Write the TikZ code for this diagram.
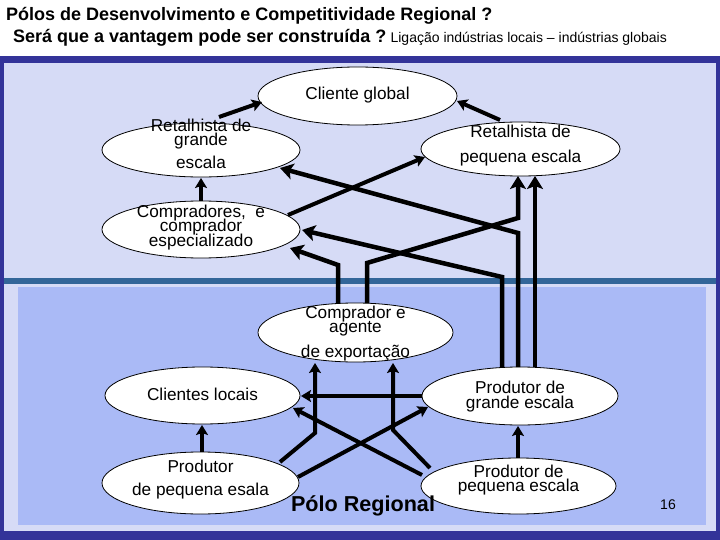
\documentclass[tikz,border=0pt]{standalone}
\usepackage{fontspec}
\setmainfont{Liberation Sans}
\usetikzlibrary{shapes.geometric,arrows.meta,calc}
\definecolor{frameblue}{RGB}{51,51,153}
\definecolor{lightlav}{RGB}{214,219,246}
\definecolor{stripeblue}{RGB}{51,102,153}
\definecolor{lowerblue}{RGB}{170,186,246}
\begin{document}
\begin{tikzpicture}[x=1pt,y=-1pt,
  ell/.style={ellipse, draw=black, line width=0.8pt, fill=white, inner sep=0pt},
  lbl/.style={font=\fontsize{17.2}{18}\selectfont, anchor=base, inner sep=0pt},
  bigarr/.style={line width=4.5pt, line join=miter, -{Stealth[length=13pt,width=16pt,inset=3pt]}},
  smallarr/.style={line width=4pt, line join=miter, -{Stealth[length=10pt,width=12pt,inset=2pt]}},
]
\useasboundingbox (0,0) rectangle (720,540);
% background
\fill[white] (0,0) rectangle (720,540);
\fill[frameblue] (0,56) rectangle (720,540);
\fill[lightlav] (4,63) rectangle (716,531);
\fill[stripeblue] (4,278) rectangle (716,284);
\fill[lowerblue] (18,287) rectangle (706,525);
% titles
\node[anchor=base west, inner sep=0pt, font=\fontsize{18}{20}\selectfont\bfseries] (t1) at (6,21) {Pólos de Desenvolvimento e Competitividade Regional ?};
\node[anchor=base west, inner sep=0pt, font=\fontsize{18}{20}\selectfont\bfseries] (t2) at (13,43) {Será que a vantagem pode ser construída ?};
\node[anchor=base west, inner sep=0pt, font=\fontsize{14}{16}\selectfont] (t3) at (t2.base east) {\ Ligação indústrias locais – indústrias globais};
% ellipses
\node[ell, minimum width=199pt, minimum height=58pt] (cg) at (357.5,96) {};
\node[ell, minimum width=198pt, minimum height=54pt] (rg) at (201,150) {};
\node[ell, minimum width=199pt, minimum height=54pt] (rp) at (520.5,149) {};
\node[ell, minimum width=198pt, minimum height=57pt] (cp) at (201,229.5) {};
\node[ell, minimum width=195pt, minimum height=59pt] (ca) at (355.5,332.5) {};
\node[ell, minimum width=195pt, minimum height=57pt] (cl) at (202.5,395.5) {};
\node[ell, minimum width=196pt, minimum height=58pt] (pg) at (520,396) {};
\node[ell, minimum width=197pt, minimum height=62pt] (pe) at (200.5,483) {};
\node[ell, minimum width=195pt, minimum height=56pt] (ps) at (518.5,486) {};
% connectors
\draw[smallarr] ($(rg)+(18,-33)$) -- ($(cg)+(-95.5,6)$);
\draw[smallarr] ($(rp)+(-20.5,-29)$) -- ($(cg)+(99.5,5)$);
\draw[smallarr] ($(cp)+(0,-28.5)$) -- ($(rg)+(0,28)$);
\draw[smallarr] ($(cp)+(87,-14.5)$) -- ($(rp)+(-95.5,8)$);
\draw[bigarr] ($(pg)+(-2,-29)$) -- ($(pg)+(-2,-163)$) -- ($(rg)+(79,18)$);
\draw[bigarr] ($(ca)+(11.5,-29.5)$) -- ($(ca)+(11.5,-69.5)$) -- ($(rp)+(-2.5,69)$) -- ($(rp)+(-2.5,27)$);
\draw[bigarr] ($(pg)+(15,-29)$) -- ($(rp)+(14.5,27)$);
\draw[bigarr] ($(pg)+(-18,-29)$) -- ($(pg)+(-18,-119)$) -- ($(cp)+(101,0.5)$);
\draw[bigarr] ($(ca)+(-17.5,-29.5)$) -- ($(ca)+(-17.5,-67.5)$) -- ($(cp)+(89,18.5)$);
\draw[smallarr] ($(pg)+(-98,0)$) -- ($(cl)+(98.5,0.5)$);
\draw[smallarr] ($(pe)+(79.5,-21)$) -- ($(pe)+(114.5,-50)$) -- ($(ca)+(-40.5,30.5)$);
\draw[smallarr] ($(ps)+(-88.5,-18)$) -- ($(ps)+(-125.5,-56)$) -- ($(ca)+(37.5,30.5)$);
\draw[smallarr] ($(pe)+(97.5,-6)$) -- ($(pg)+(-92,11)$);
\draw[smallarr] ($(ps)+(-96.5,-11)$) -- ($(cl)+(90.5,12.5)$);
\draw[smallarr] ($(pe)+(1.5,-31)$) -- ($(cl)+(-0.5,29.5)$);
\draw[smallarr] ($(ps)+(-0.5,-28)$) -- ($(pg)+(-2,30)$);
% labels
\node[lbl] (cg1) at ($(cg)+(0,4)$) {Cliente global};
\node[lbl] (rg1) at ($(rg)+(0,-18)$) {Retalhista de};
\node[lbl] (rg2) at ($(rg)+(0,-4)$) {grande};
\node[lbl] (rg3) at ($(rg)+(0,19)$) {escala};
\node[lbl] (rp1) at ($(rp)+(0,-11)$) {Retalhista de};
\node[lbl] (rp2) at ($(rp)+(0,14)$) {pequena escala};
\node[lbl] (cp1) at ($(cp)+(0,-11.5)$) {Compradores,\ \ e};
\node[lbl] (cp2) at ($(cp)+(0,2.5)$) {comprador};
\node[lbl] (cp3) at ($(cp)+(0,17.5)$) {especializado};
\node[lbl] (ca1) at ($(ca)+(0,-14.5)$) {Comprador e};
\node[lbl] (ca2) at ($(ca)+(0,-0.5)$) {agente};
\node[lbl] (ca3) at ($(ca)+(0,24.5)$) {de exportação};
\node[lbl] (cl1) at ($(cl)+(0,4.5)$) {Clientes locais};
\node[lbl] (pg1) at ($(pg)+(0,-3)$) {Produtor de};
\node[lbl] (pg2) at ($(pg)+(0,12)$) {grande escala};
\node[lbl] (pe1) at ($(pe)+(0,-11)$) {Produtor};
\node[lbl] (pe2) at ($(pe)+(0,12)$) {de pequena esala};
\node[lbl] (ps1) at ($(ps)+(0,-9)$) {Produtor de};
\node[lbl] (ps2) at ($(ps)+(0,5)$) {pequena escala};
\node[anchor=base, inner sep=0pt, font=\fontsize{21.6}{24}\selectfont\bfseries] (polo) at (363,511) {Pólo Regional};
\node[anchor=base, inner sep=0pt, font=\fontsize{14}{16}\selectfont] (num) at (668,509) {16};
\end{tikzpicture}
\end{document}
